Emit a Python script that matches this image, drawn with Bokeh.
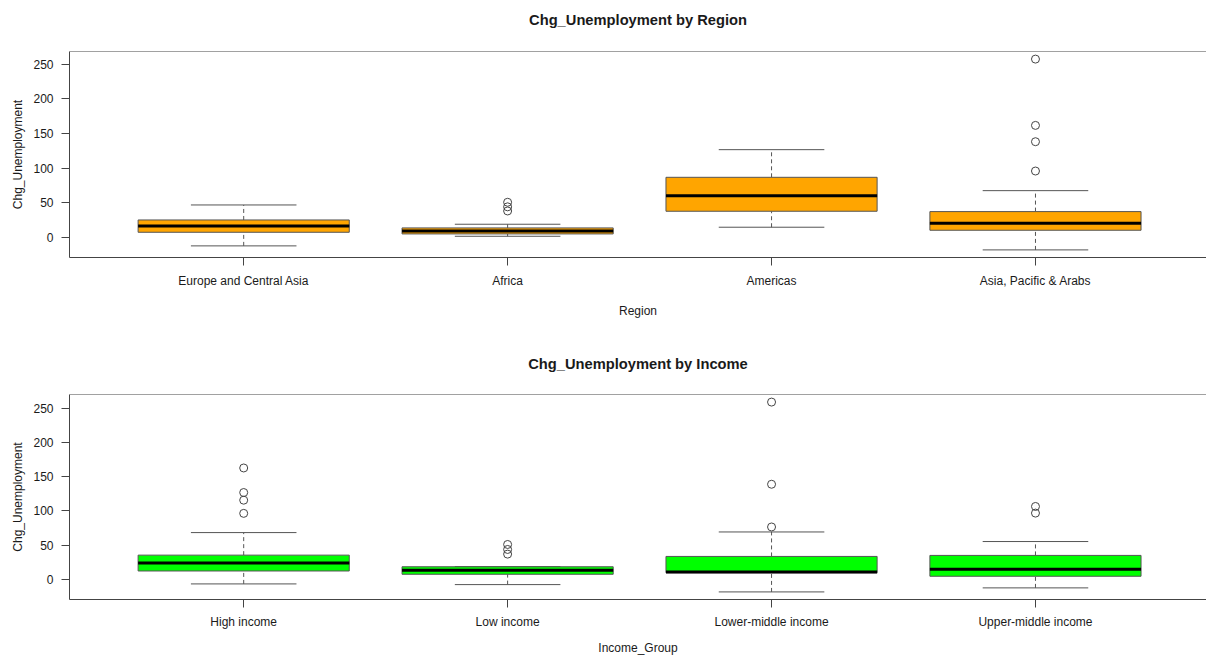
from bokeh.plotting import figure
from bokeh.layouts import column
from bokeh.models import FixedTicker, Span, Range1d, Title
from bokeh.embed import file_html
from bokeh.resources import INLINE

# ---- data ----
regions = ["Europe and Central Asia", "Africa", "Americas", "Asia, Pacific & Arabs"]
region_low = [-12.5, 1.4, 14.5, -18.3]
region_q1 = [7.2, 4.8, 37.6, 10.1]
region_med = [16.4, 9.1, 60.2, 20.2]
region_q3 = [25.0, 13.5, 86.7, 37.1]
region_high = [46.7, 18.8, 126.7, 67.4]
region_outliers = [[], [50.6, 44.0, 38.0], [], [257.7, 161.8, 138.2, 95.8]]

incomes = ["High income", "Low income", "Lower-middle income", "Upper-middle income"]
income_low = [-6.8, -7.8, -18.5, -12.6]
income_q1 = [12.1, 7.3, 9.6, 4.4]
income_med = [23.7, 13.1, 10.6, 14.5]
income_q3 = [35.3, 18.3, 33.4, 34.9]
income_high = [68.3, 18.5, 69.2, 55.2]
income_outliers = [[162.8, 126.9, 115.7, 96.4], [50.9, 43.6, 36.8], [259.2, 139.0, 76.5], [106.5, 96.8]]

y_ticks = [0, 50, 100, 150, 200, 250]

FONT = "Liberation Sans"
FRAME = "#444444"
TXT = "#1a1a1a"


def panel(title, cats, low, q1, med, q3, high, outl, fill, xlabel, height, top, bottom, yr,
          spacer, lab_standoff, axlab_standoff):
    n = len(cats)
    xs = list(range(1, n + 1))
    p = figure(width=1206, height=height, output_backend="svg", toolbar_location=None,
               x_range=Range1d(0.34, 4.648), y_range=Range1d(*yr),
               min_border_left=69, min_border_right=0,
               min_border_top=top, min_border_bottom=bottom)
    p.title.text = ""
    p.outline_line_color = None
    p.xgrid.visible = False
    p.ygrid.visible = False
    p.background_fill_color = "white"
    p.border_fill_color = "white"

    p.add_layout(Title(text=" ", text_font_size="1px", standoff=spacer), "above")
    p.add_layout(Title(text=title, standoff=0, align="center", text_font=FONT,
                       text_font_size="14.7px", text_font_style="bold", text_color=TXT,
                       vertical_align="bottom"), "above")

    # whiskers (dashed) and staples
    p.segment(x0=xs, y0=q3, x1=xs, y1=high, line_color="#555555", line_dash="4 3", line_width=1)
    p.segment(x0=xs, y0=low, x1=xs, y1=q1, line_color="#555555", line_dash="4 3", line_width=1)
    p.segment(x0=[x - 0.2 for x in xs], y0=high, x1=[x + 0.2 for x in xs], y1=high,
              line_color="#555555", line_width=1)
    p.segment(x0=[x - 0.2 for x in xs], y0=low, x1=[x + 0.2 for x in xs], y1=low,
              line_color="#555555", line_width=1)
    # boxes
    p.quad(left=[x - 0.4 for x in xs], right=[x + 0.4 for x in xs], bottom=q1, top=q3,
           fill_color=fill, line_color="#555555", line_width=1)
    # medians
    p.segment(x0=[x - 0.4 for x in xs], y0=med, x1=[x + 0.4 for x in xs], y1=med,
              line_color="black", line_width=3)
    # outliers
    ox, oy = [], []
    for x, vals in zip(xs, outl):
        for v in vals:
            ox.append(x)
            oy.append(v)
    p.scatter(ox, oy, marker="circle", size=8, fill_color=None, line_color="#444444", line_width=1)

    # frame top
    p.add_layout(Span(location=yr[1], dimension="width", line_color=FRAME, line_width=1))

    xa = p.xaxis[0]
    xa.ticker = FixedTicker(ticks=xs)
    xa.major_label_overrides = {x: c for x, c in zip(xs, cats)}
    xa.axis_label = xlabel
    for ax in (p.xaxis[0], p.yaxis[0]):
        ax.axis_line_color = FRAME
        ax.major_tick_line_color = FRAME
        ax.major_tick_out = 8
        ax.major_tick_in = 0
        ax.minor_tick_line_color = None
        ax.major_label_text_font = FONT
        ax.major_label_text_font_size = "12px"
        ax.major_label_text_color = TXT
        ax.axis_label_text_font = FONT
        ax.axis_label_text_font_size = "12px"
        ax.axis_label_text_font_style = "normal"
        ax.axis_label_text_color = TXT
        ax.major_label_standoff = 8
    xa.major_label_standoff = lab_standoff
    xa.axis_label_standoff = axlab_standoff
    ya = p.yaxis[0]
    ya.ticker = FixedTicker(ticks=y_ticks)
    ya.axis_label = "Chg_Unemployment"
    ya.axis_label_standoff = 5
    return p


p1 = panel("Chg_Unemployment by Region", regions, region_low, region_q1, region_med, region_q3,
           region_high, region_outliers, "#FFA500", "Region", 328, 51, 71, (-29.3, 268.7),
           21, 8, 13)
p2 = panel("Chg_Unemployment by Income", incomes, income_low, income_q1, income_med, income_q3,
           income_high, income_outliers, "#00FF00", "Income_Group", 330, 66, 59, (-29.6, 270.3),
           20, 7, 9)

layout = column(p1, p2, spacing=0)
open("out.html", "w").write(file_html(layout, INLINE))
